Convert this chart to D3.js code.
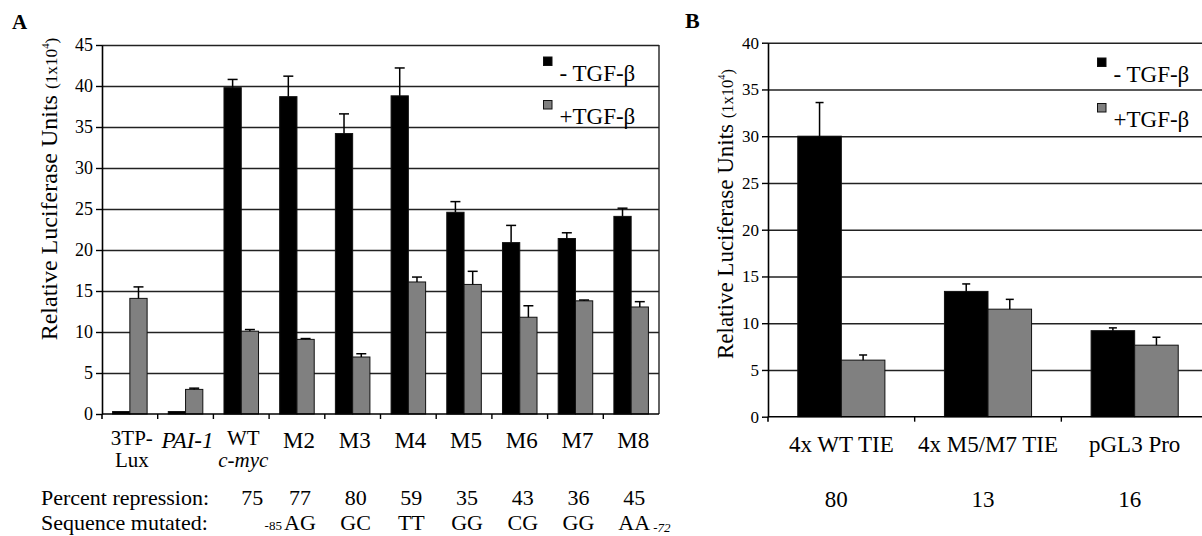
<!DOCTYPE html>
<html><head><meta charset="utf-8">
<script src="https://cdn.jsdelivr.net/npm/d3@7/dist/d3.min.js"></script>
<style>
body{margin:0;background:#fff;}
svg{display:block;font-family:"Liberation Serif","Times New Roman",serif;}
</style></head>
<body><svg id="c" width="1202" height="536"></svg>
<script>
// ---- Panel A data ----
const catLinesA = [["3TP-","Lux"],["PAI-1"],["WT","c-myc"],["M2"],["M3"],["M4"],["M5"],["M6"],["M7"],["M8"]];
const italicLines = ["PAI-1","c-myc"];
const minusA    = [0.3, 0.3, 39.8, 38.7, 34.2, 38.8, 24.6, 20.9, 21.4, 24.1];
const minusErrA = [0, 0, 1.0, 2.5, 2.4, 3.4, 1.3, 2.1, 0.7, 1.0];
const plusA     = [14.1, 3.0, 10.1, 9.1, 6.95, 16.1, 15.8, 11.8, 13.8, 13.05];
const plusErrA  = [1.4, 0.15, 0.2, 0.1, 0.4, 0.6, 1.6, 1.4, 0.1, 0.65];
const repressionA = [null, null, 75, 77, 80, 59, 35, 43, 36, 45];
const seqA = [null, null, null, "AG", "GC", "TT", "GG", "CG", "GG", "AA"];
const ticksA = [0,5,10,15,20,25,30,35,40,45];
// ---- Panel B data ----
const catsB = ["4x WT TIE","4x M5/M7 TIE","pGL3 Pro"];
const minusB    = [30.0, 13.4, 9.2];
const minusErrB = [3.6, 0.8, 0.3];
const plusB     = [6.05, 11.5, 7.65];
const plusErrB  = [0.55, 1.05, 0.85];
const repressionB = [80, 13, 16];
const ticksB = [0,5,10,15,20,25,30,35,40];
const legendLabels = ["- TGF-\u03b2", "+TGF-\u03b2"];
const colors = ["#000000", "#808080"];

const svg = d3.select("#c");
const FONT = '"Liberation Serif","Times New Roman",serif';

function panel(o){
  const g = svg.append("g");
  const n = o.cats.length;
  const x = d3.scaleBand().domain(d3.range(n)).range([o.x0, o.x1]).padding(0);
  const y = d3.scaleLinear().domain([0, o.ymax]).range([o.y0, o.y1]);
  const bw = x.bandwidth() * o.barFrac;
  // gridlines
  g.append("g").attr("transform", `translate(${o.x0},0)`)
    .call(d3.axisLeft(y).tickValues(o.ticks.filter(t => t > 0)).tickSize(-(o.x1 - o.x0)).tickFormat(""))
    .call(s => s.select(".domain").remove())
    .call(s => s.selectAll("line").attr("stroke", "#222").attr("stroke-width", 1.4));
  // right frame
  g.append("line").attr("x1", o.x1).attr("x2", o.x1).attr("y1", y(o.ymax)).attr("y2", y(0))
    .attr("stroke", "#222").attr("stroke-width", 1.4);
  // bars
  const series = [{v: o.minus, e: o.minusErr, c: colors[0], off: -bw},
                  {v: o.plus,  e: o.plusErr,  c: colors[1], off: 0}];
  series.forEach(s => {
    const cx = i => x(i) + x.bandwidth()/2 + s.off;
    g.selectAll(null).data(s.v).join("rect")
      .attr("x", (d,i) => cx(i)).attr("width", bw)
      .attr("y", d => y(d)).attr("height", d => y(0) - y(d))
      .attr("fill", s.c).attr("stroke", "#111").attr("stroke-width", 1);
    const eg = g.selectAll(null).data(s.v.map((d,i) => ({d, e: s.e[i], i})).filter(p => p.e > 0)).join("g");
    eg.append("line").attr("x1", p => cx(p.i) + bw/2).attr("x2", p => cx(p.i) + bw/2)
      .attr("y1", p => y(p.d)).attr("y2", p => y(p.d + p.e)).attr("stroke", "#000").attr("stroke-width", 1.5);
    eg.append("line").attr("x1", p => cx(p.i) + bw/2 - o.cap).attr("x2", p => cx(p.i) + bw/2 + o.cap)
      .attr("y1", p => y(p.d + p.e)).attr("y2", p => y(p.d + p.e)).attr("stroke", "#000").attr("stroke-width", 1.5);
  });
  // y axis
  const ya = g.append("g").attr("transform", `translate(${o.x0},0)`)
    .call(d3.axisLeft(y).tickValues(o.ticks).tickSize(6).tickPadding(3).tickSizeOuter(0));
  ya.select(".domain").attr("stroke", "#000").attr("stroke-width", 1.6);
  ya.selectAll("line").attr("stroke", "#000").attr("stroke-width", 1.4);
  ya.selectAll("text").attr("font-family", FONT).attr("font-size", o.tickFont).attr("fill", "#000");
  // x axis line + boundary ticks
  g.append("line").attr("x1", o.x0).attr("x2", o.x1).attr("y1", y(0)).attr("y2", y(0))
    .attr("stroke", "#000").attr("stroke-width", 1.6);
  g.selectAll(null).data(d3.range(1, n)).join("line")
    .attr("x1", i => x(i)).attr("x2", i => x(i)).attr("y1", y(0)).attr("y2", y(0) + 5)
    .attr("stroke", "#000").attr("stroke-width", 1.4);
  g.append("line").attr("x1", o.x0).attr("x2", o.x0).attr("y1", y(0)).attr("y2", y(0) + 5)
    .attr("stroke", "#000").attr("stroke-width", 1.6);
  // category labels
  const lab = g.selectAll(null).data(o.cats).join("text")
    .attr("text-anchor", "middle").attr("fill", "#000")
    .attr("font-size", d => d.length > 1 ? o.catFont2 : o.catFont)
    .attr("transform", (d,i) => `translate(${x(i) + x.bandwidth()/2 + o.labShift},${d.length > 1 ? o.labY2 : o.labY})`);
  lab.each(function(lines){
    const t = d3.select(this);
    lines.forEach((ln, k) => {
      t.append("tspan").attr("x", 0).attr("y", k * o.lineH).text(ln)
        .attr("font-style", italicLines.includes(ln) ? "italic" : "normal");
    });
  });
  // y title
  const tt = g.append("text").attr("transform", `translate(${o.titleX},${o.titleY}) rotate(-90)`)
    .attr("text-anchor", "middle").attr("font-size", o.titleFont).attr("fill", "#000");
  tt.append("tspan").text("Relative Luciferase Units ");
  tt.append("tspan").attr("font-size", o.titleFont * 0.72).text("(1x10");
  tt.append("tspan").attr("font-size", o.titleFont * 0.45).attr("dy", -8).text("4");
  tt.append("tspan").attr("font-size", o.titleFont * 0.72).attr("dy", 8).text(")");
  // legend
  legendLabels.forEach((l, k) => {
    g.append("rect").attr("x", o.legX).attr("y", o.legY + k * o.legDy).attr("width", 8.5).attr("height", 8.5)
      .attr("fill", colors[k]).attr("stroke", "#111").attr("stroke-width", 1);
    g.append("text").attr("x", o.legX + 16).attr("y", o.legY + 23.5 + k * o.legDy)
      .attr("font-size", o.legFont).attr("fill", "#000").text(l);
  });
  return {x, y, g};
}

const A = panel({cats: catLinesA, minus: minusA, minusErr: minusErrA, plus: plusA, plusErr: plusErrA,
  x0: 102, x1: 659, y0: 414, y1: 45, ymax: 45, ticks: ticksA, barFrac: 0.31, cap: 5,
  tickFont: 18, catFont: 23, catFont2: 21, labY: 448, labY2: 445, lineH: 22, labShift: 2,
  titleX: 57, titleY: 189, titleFont: 24, legX: 543.5, legY: 57, legDy: 43.5, legFont: 23});

const B = panel({cats: catsB.map(c => [c]), minus: minusB, minusErr: minusErrB, plus: plusB, plusErr: plusErrB,
  x0: 768, x1: 1208, y0: 416.7, y1: 42.7, ymax: 40, ticks: ticksB, barFrac: 0.297, cap: 4,
  tickFont: 17, catFont: 23, catFont2: 23, labY: 451.5, labY2: 451.5, lineH: 22, labShift: 0,
  titleX: 733, titleY: 214, titleFont: 23, legX: 1097.5, legY: 58, legDy: 45.5, legFont: 23});

// panel letters
svg.append("text").attr("x", 12).attr("y", 29).attr("font-weight", "bold").attr("font-size", 21).text("A");
svg.append("text").attr("x", 685).attr("y", 28).attr("font-weight", "bold").attr("font-size", 22).text("B");

// Panel A bottom rows
const cA = i => A.x(i) + A.x.bandwidth()/2 + 3;
svg.append("text").attr("x", 41).attr("y", 505).attr("font-size", 22).text("Percent repression:");
svg.selectAll(null).data(repressionA.map((v,i) => ({v,i})).filter(p => p.v !== null)).join("text")
  .attr("x", p => cA(p.i) + (p.i === 2 ? 8 : 0)).attr("y", 505).attr("text-anchor", "middle").attr("font-size", 22).text(p => p.v);
svg.append("text").attr("x", 41).attr("y", 530).attr("font-size", 22).text("Sequence mutated:");
svg.selectAll(null).data(seqA.map((v,i) => ({v,i})).filter(p => p.v !== null)).join("text")
  .attr("x", p => cA(p.i)).attr("y", 530).attr("text-anchor", "middle").attr("font-size", 22).text(p => p.v);
svg.append("text").attr("x", cA(3) - 18).attr("y", 530).attr("text-anchor", "end").attr("font-size", 13).text("-85");
svg.append("text").attr("x", cA(9) + 19).attr("y", 532).attr("font-size", 13).attr("font-style", "italic").text("-72");

// Panel B bottom row
svg.selectAll(null).data(repressionB).join("text")
  .attr("x", (d,i) => B.x(i) + B.x.bandwidth()/2 - 5).attr("y", 507).attr("text-anchor", "middle")
  .attr("font-size", 23).text(d => d);
</script></body></html>
